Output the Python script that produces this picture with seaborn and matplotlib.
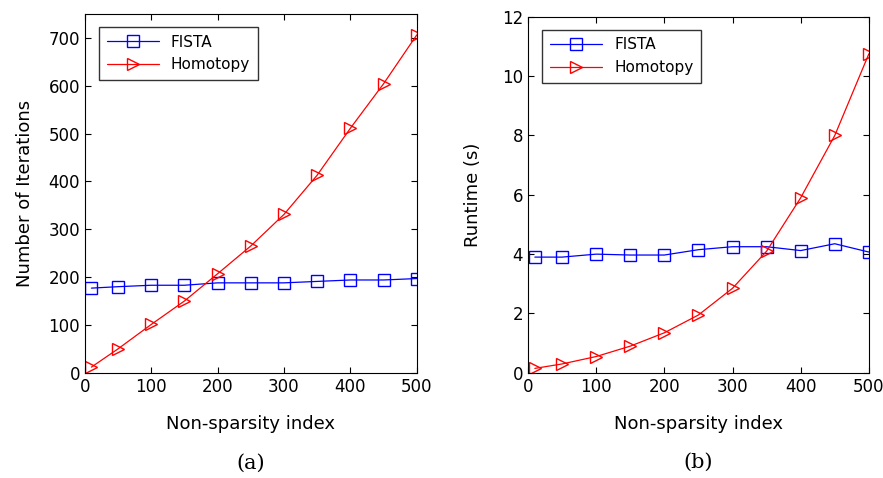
import numpy as np
import pandas as pd
import matplotlib
matplotlib.use("Agg")
import matplotlib.pyplot as plt
import seaborn as sns

# Non-sparsity index
sparsity_idx = [10, 50, 100, 150, 200, 250, 300, 350, 400, 450, 500]

# (a) number of iterations
fista_iters = [177, 180, 183, 183, 188, 188, 188, 191, 194, 194, 197]
homotopy_iters = [12, 50, 101, 150, 207, 265, 331, 413, 511, 604, 706]

# (b) runtime in seconds
fista_runtime = [3.9, 3.9, 4.0, 3.97, 3.97, 4.15, 4.25, 4.25, 4.12, 4.35, 4.07]
homotopy_runtime = [0.15, 0.3, 0.55, 0.9, 1.35, 1.95, 2.85, 4.1, 5.9, 8.0, 10.75]

methods = ["FISTA", "Homotopy"]
colors = {"FISTA": "#0000ff", "Homotopy": "#ff0000"}
markers = {"FISTA": "s", "Homotopy": ">"}


def make_frame(fista_vals, homotopy_vals, value_name):
    df = pd.DataFrame({
        "index": sparsity_idx * 2,
        value_name: list(fista_vals) + list(homotopy_vals),
        "method": ["FISTA"] * len(sparsity_idx) + ["Homotopy"] * len(sparsity_idx),
    })
    return df


sns.set_style("ticks")
plt.rcParams["font.family"] = ["DejaVu Sans"]
plt.rcParams["text.color"] = "black"
plt.rcParams["axes.labelcolor"] = "black"
plt.rcParams["xtick.color"] = "black"
plt.rcParams["ytick.color"] = "black"

fig = plt.figure(figsize=(8.83, 4.78), dpi=100)
ax_a = fig.add_axes([0.096, 0.220, 0.376, 0.751])
ax_b = fig.add_axes([0.598, 0.220, 0.386, 0.745])

panels = [
    (ax_a, make_frame(fista_iters, homotopy_iters, "iters"), "iters",
     "Number of Iterations", (0, 750), np.arange(0, 701, 100), "(a)", 10),
    (ax_b, make_frame(fista_runtime, homotopy_runtime, "runtime"), "runtime",
     "Runtime (s)", (0, 12), np.arange(0, 13, 2), "(b)", 14),
]

for ax, df, col, ylabel, ylim, yticks, caption, ypad in panels:
    sns.lineplot(
        data=df, x="index", y=col, hue="method", style="method",
        palette=colors, markers=markers, dashes=False, ax=ax,
        linewidth=0.9, markersize=9, markerfacecolor="none",
        markeredgewidth=1.0,
    )
    for line in ax.get_lines():
        line.set_markerfacecolor("none")
        line.set_markeredgecolor(line.get_color())
    ax.set_xlim(0, 500)
    ax.set_ylim(*ylim)
    ax.set_xticks(np.arange(0, 501, 100))
    ax.set_yticks(yticks)
    ax.tick_params(direction="in", top=True, right=True, labelsize=12, length=4)
    for spine in ax.spines.values():
        spine.set_visible(True)
        spine.set_linewidth(0.8)
        spine.set_color("black")
    ax.set_xlabel("Non-sparsity index", fontsize=13, labelpad=14)
    ax.set_ylabel(ylabel, fontsize=13, labelpad=ypad)
    leg = ax.legend(loc="upper left", fontsize=11, frameon=True, fancybox=False,
                    edgecolor="black", handlelength=3.4, borderpad=0.5,
                    bbox_to_anchor=(0.02, 0.985))
    leg.get_frame().set_linewidth(1.0)
    for h in leg.legend_handles:
        h.set_markerfacecolor("none")
        h.set_markeredgecolor(h.get_color())
    ax.text(0.5, -0.225, caption, transform=ax.transAxes, ha="center", va="top",
            fontsize=15, family="DejaVu Serif")

fig.savefig("out.png", dpi=100, facecolor="white")
